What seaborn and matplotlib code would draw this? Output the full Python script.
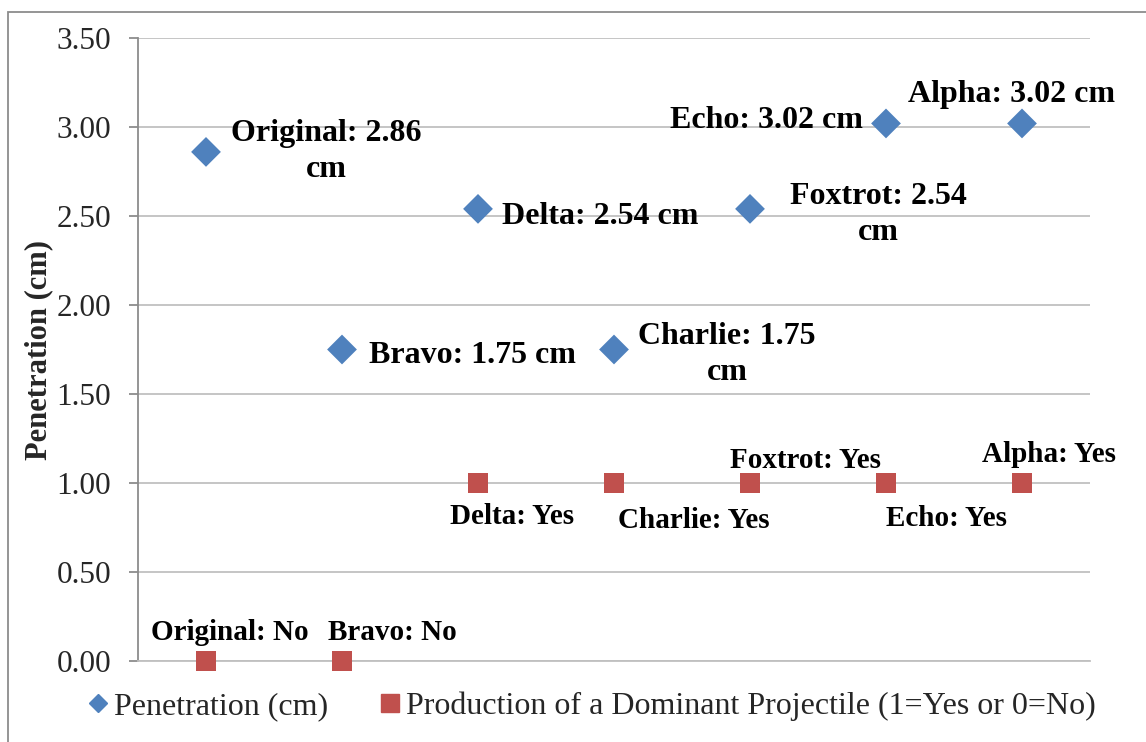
import matplotlib
matplotlib.use("Agg")
import matplotlib.pyplot as plt
import seaborn as sns
import pandas as pd
from matplotlib.patches import Rectangle
from matplotlib.lines import Line2D

# ---- data ----
designs = ["Original", "Bravo", "Delta", "Charlie", "Foxtrot", "Echo", "Alpha"]
penetration = [2.86, 1.75, 2.54, 1.75, 2.54, 3.02, 3.02]
dominant = [0, 0, 1, 1, 1, 1, 1]
pen_labels = ["Original: 2.86\ncm", "Bravo: 1.75 cm", "Delta: 2.54 cm", "Charlie: 1.75\ncm",
              "Foxtrot: 2.54\ncm", "Echo: 3.02 cm", "Alpha: 3.02 cm"]
dom_labels = ["Original: No", "Bravo: No", "Delta: Yes", "Charlie: Yes",
              "Foxtrot: Yes", "Echo: Yes", "Alpha: Yes"]
yticks = [0.0, 0.5, 1.0, 1.5, 2.0, 2.5, 3.0, 3.5]
series_names = ["Penetration (cm)", "Production of a Dominant Projectile (1=Yes or 0=No)"]

# ---- layout (pixel offsets of labels from points) ----
pen_off = [(120, 0), (130, -6), (122, -8), (113, -5), (128, -6), (-120, 3), (-11, 29)]
dom_off = [(24, 29), (50, 29), (34, -33), (80, -38), (56, 23), (60, -35), (27, 28)]

sns.set_theme(style="white")
plt.rcParams["font.family"] = ["Liberation Serif", "DejaVu Serif"]

W, H = 1146, 742
fig = plt.figure(figsize=(W / 100, H / 100), dpi=100)
ax = fig.add_axes([138 / W, 1 - 661 / H, (1090 - 138) / W, (661 - 38) / H])

x = list(range(1, len(designs) + 1))
df = pd.DataFrame({"x": x, "pen": penetration, "dom": dominant})

blue = "#4F81BD"
red = "#C0504D"
sns.scatterplot(data=df, x="x", y="pen", marker="D", s=230, color=blue,
                edgecolor="none", ax=ax, zorder=3, clip_on=False)
sns.scatterplot(data=df, x="x", y="dom", marker="s", s=190, color=red,
                edgecolor="none", ax=ax, zorder=3, clip_on=False)

common = dict(fontweight="bold", ha="center", va="center",
              multialignment="center", textcoords="offset points", color="black")
for xi, yi, lab, (dx, dy) in zip(x, penetration, pen_labels, pen_off):
    ax.annotate(lab, (xi, yi), xytext=(dx * 0.72, dy * 0.72), fontsize=23,
                linespacing=1.32, **common)
for xi, yi, lab, (dx, dy) in zip(x, dominant, dom_labels, dom_off):
    ax.annotate(lab, (xi, yi), xytext=(dx * 0.72, dy * 0.72), fontsize=21, **common)

ax.set_xlim(0.5, 7.5)
ax.set_ylim(0, 3.5)
ax.set_yticks(yticks)
ax.set_yticklabels([f"{v:.2f}" for v in yticks], fontsize=22.5)
ax.set_xticks([])
ax.set_xlabel("")
ax.set_ylabel("Penetration (cm)", fontsize=22, fontweight="bold", labelpad=2)
ax.yaxis.grid(True, color="#C0C0C0", linewidth=1.3)
ax.set_axisbelow(True)
for side in ["top", "right"]:
    ax.spines[side].set_visible(False)
ax.spines["left"].set_color("#8C8C8C")
ax.spines["left"].set_linewidth(1.3)
ax.spines["bottom"].set_color("#C0C0C0")
ax.spines["bottom"].set_linewidth(1.3)
ax.tick_params(axis="y", which="major", left=True, length=6.5, width=1.3,
               color="#8C8C8C", pad=13, direction="out")

# legend
handles = [Line2D([], [], marker="D", color=blue, linestyle="none", markersize=9.5),
           Line2D([], [], marker="s", color=red, linestyle="none", markersize=13)]
fig.legend(handles, series_names, loc="center", bbox_to_anchor=(589 / W, 1 - 706 / H),
           ncol=2, frameon=False, fontsize=23, handletextpad=0.0, columnspacing=1.45,
           handlelength=1.0)

# outer border
fig.patches.append(Rectangle((8 / W, -0.01), 1.1, 1 - 12 / H + 0.01, transform=fig.transFigure,
                             fill=False, edgecolor="#8C8C8C", linewidth=1.3))

fig.savefig("out.png", dpi=100)
